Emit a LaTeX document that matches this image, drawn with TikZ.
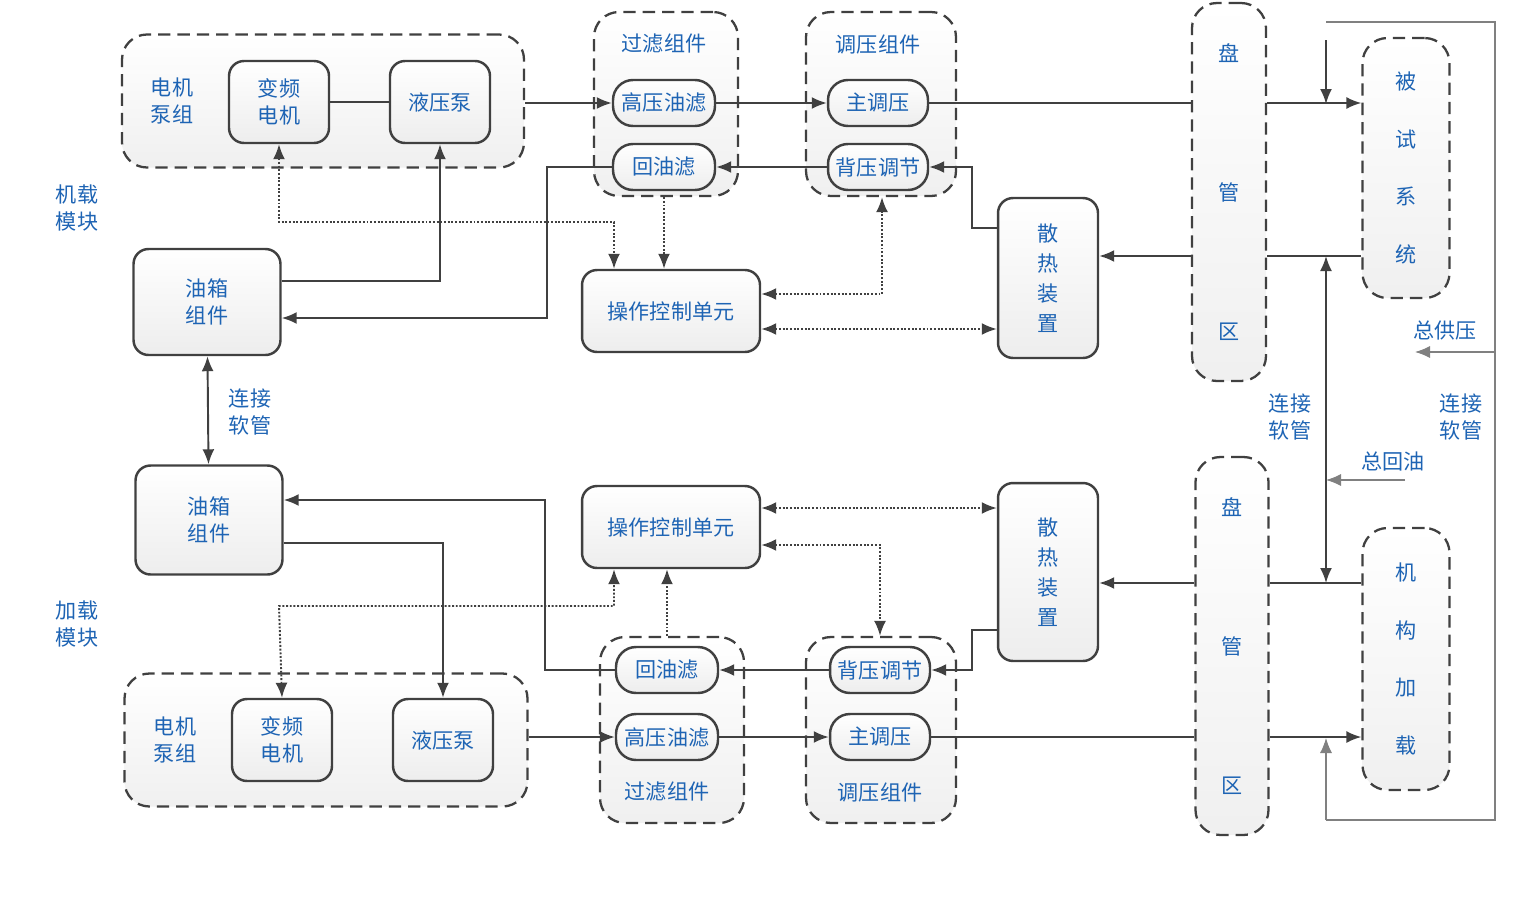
\documentclass[tikz,border=0pt]{standalone}
\usepackage{fontspec}
\setmainfont{Noto Sans CJK SC}
\usetikzlibrary{arrows.meta}
\definecolor{txtblue}{RGB}{30,100,180}
\definecolor{linegray}{RGB}{64,64,64}
\begin{document}
\begin{tikzpicture}[x=0.02cm,y=-0.02cm,>={Latex[length=3mm,width=2.4mm]}]
  \fontsize{12}{15}\selectfont
  \useasboundingbox (0,0) rectangle (1534,906);
  \tikzstyle{every node}=[text=txtblue,align=center,inner sep=0pt]
  \tikzstyle{box}=[rectangle,rounded corners=3mm,draw=linegray,line width=1.4pt,top color=white,bottom color=gray!14]
  \tikzstyle{grp}=[rectangle,rounded corners=5mm,draw=linegray,line width=1.3pt,dash pattern=on 7pt off 4pt,top color=white,bottom color=gray!12]
  \tikzstyle{pipe}=[draw=linegray,line width=1.1pt]
  \tikzstyle{sig}=[draw=linegray,line width=1.1pt,densely dotted]
  \tikzstyle{thin}=[draw=gray,line width=0.6pt]

%% onboard module
  \node[grp,minimum width=402*0.02cm,minimum height=133*0.02cm] (pumpA) at (323,101) {};
  \node at (172,101) {电机\\泵组};
  \node[box,minimum width=2cm,minimum height=1.64cm] (motorA) at (279,102) {变频\\电机};
  \node[box,minimum width=2cm,minimum height=1.64cm] (hpumpA) at (440,102) {液压泵};
  \node[grp,minimum width=144*0.02cm,minimum height=184*0.02cm] (filtA) at (666,104) {};
  \node at (664,44) {过滤组件};
  \node[box,rounded corners=4mm,minimum width=2.04cm,minimum height=0.92cm] (hpfA) at (664,103) {高压油滤};
  \node[box,rounded corners=4mm,minimum width=2.04cm,minimum height=0.92cm] (rfA) at (664,167) {回油滤};
  \node[grp,minimum width=150*0.02cm,minimum height=184*0.02cm] (regA) at (881,104) {};
  \node at (878,44) {调压组件};
  \node[box,rounded corners=4mm,minimum width=2cm,minimum height=0.92cm] (mainA) at (878,103) {主调压};
  \node[box,rounded corners=4mm,minimum width=2cm,minimum height=0.92cm] (backA) at (878,167) {背压调节};
  \node[grp,minimum width=74*0.02cm,minimum height=378*0.02cm] (coilA) at (1229,192) {盘\\[2.25cm]管\\[2.25cm]区};
  \node[grp,minimum width=87*0.02cm,minimum height=260*0.02cm] (test) at (1406,168) {被\\[0.63cm]试\\[0.63cm]系\\[0.63cm]统};
  \node[box,minimum width=2cm,minimum height=3.2cm] (coolA) at (1048,278) {散\\[0.07cm]热\\[0.07cm]装\\[0.07cm]置};
  \node[box,minimum width=3.56cm,minimum height=1.64cm] (ctrlA) at (671,311) {操作控制单元};
  \node[box,minimum width=2.94cm,minimum height=2.12cm] (tankA) at (207,302) {油箱\\组件};
  \node at (77,208) {机载\\模块};
  \node at (250,412) {连接\\软管};

%% loading module
  \node[box,minimum width=2.94cm,minimum height=2.18cm] (tankB) at (209,520) {油箱\\组件};
  \node[box,minimum width=3.56cm,minimum height=1.64cm] (ctrlB) at (671,527) {操作控制单元};
  \node[box,minimum width=2cm,minimum height=3.56cm] (coolB) at (1048,572) {散\\[0.07cm]热\\[0.07cm]装\\[0.07cm]置};
  \node at (77,624) {加载\\模块};
  \node[grp,minimum width=403*0.02cm,minimum height=133*0.02cm] (pumpB) at (326,740) {};
  \node at (175,740) {电机\\泵组};
  \node[box,minimum width=2cm,minimum height=1.64cm] (motorB) at (282,740) {变频\\电机};
  \node[box,minimum width=2cm,minimum height=1.64cm] (hpumpB) at (443,740) {液压泵};
  \node[grp,minimum width=144*0.02cm,minimum height=186*0.02cm] (filtB) at (672,730) {};
  \node at (667,792) {过滤组件};
  \node[box,rounded corners=4mm,minimum width=2.04cm,minimum height=0.92cm] (rfB) at (667,670) {回油滤};
  \node[box,rounded corners=4mm,minimum width=2.04cm,minimum height=0.92cm] (hpfB) at (667,737) {高压油滤};
  \node[grp,minimum width=150*0.02cm,minimum height=186*0.02cm] (regB) at (881,730) {};
  \node at (880,792) {调压组件};
  \node[box,rounded corners=4mm,minimum width=2cm,minimum height=0.92cm] (backB) at (880,670) {背压调节};
  \node[box,rounded corners=4mm,minimum width=2cm,minimum height=0.92cm] (mainB) at (880,737) {主调压};
  \node[grp,minimum width=73*0.02cm,minimum height=378*0.02cm] (coilB) at (1232,646) {盘\\[2.25cm]管\\[2.25cm]区};
  \node[grp,minimum width=87*0.02cm,minimum height=262*0.02cm] (load) at (1406,659) {机\\[0.63cm]构\\[0.63cm]加\\[0.63cm]载};

%% right side labels
  \node at (1290,417) {连接\\软管};
  \node at (1461,417) {连接\\软管};
  \node at (1445,330) {总供压};
  \node at (1393,461) {总回油};

%% oil lines, onboard
  \draw[pipe] (motorA) -- (hpumpA);
  \draw[pipe,->] (pumpA.east |- hpfA) -- (hpfA.west);
  \draw[pipe,->] (hpfA) -- (mainA);
  \draw[pipe] (mainA.east) -- (coilA.west |- mainA);
  \draw[pipe,->] (coilA.east |- mainA) -- (test.west |- mainA);
  \draw[pipe] (test.west |- 0,256) -- (coilA.east |- 0,256);
  \draw[pipe,->] (coilA.west |- 0,256) -- (coolA.east |- 0,256);
  \draw[pipe,->] (coolA.west |- 0,228) -- (972,228) |- (backA.east);
  \draw[pipe,->] (backA) -- (rfA);
  \draw[pipe,->] (rfA.west) -- (547,167) |- (tankA.east |- 0,318);
  \draw[pipe,->] (tankA.east |- 0,281) -| (hpumpA.south);
  \draw[pipe,<->] (tankA) -- (tankB);

%% signal lines, onboard
  \draw[sig,<->] (motorA.south) -- (279,222) -| ([xshift=-1.14cm]ctrlA.north);
  \draw[sig,->] (filtA.south -| ctrlA.north) ++(-0.14cm,0) -- ([xshift=-0.14cm]ctrlA.north);
  \draw[sig,<->] (ctrlA.east |- 0,294) -| (regA.south -| 882,0);
  \draw[sig,<->] (ctrlA.east |- 0,329) -- (coolA.west |- 0,329);

%% oil lines, loading
  \draw[pipe,->] (tankB.east |- 0,543) -| (hpumpB.north);
  \draw[pipe,->] (rfB.west) -- (545,670) |- (tankB.east |- 0,500);
  \draw[pipe,->] (pumpB.east |- hpfB) -- (hpfB.west);
  \draw[pipe,->] (hpfB) -- (mainB);
  \draw[pipe] (mainB.east) -- (coilB.west |- mainB);
  \draw[pipe,->] (coilB.east |- mainB) -- (load.west |- mainB);
  \draw[pipe] (load.west |- 0,583) -- (coilB.east |- 0,583);
  \draw[pipe,->] (coilB.west |- 0,583) -- (coolB.east |- 0,583);
  \draw[pipe,->] (coolB.west |- 0,630) -- (972,630) |- (backB.east);
  \draw[pipe,->] (backB) -- (rfB);

%% signal lines, loading
  \draw[sig,<->] (motorB.north) -- (279,606) -| ([xshift=-1.14cm]ctrlB.south);
  \draw[sig,->] (filtB.north -| ctrlB.south) ++(-0.08cm,0) -- ([xshift=-0.08cm]ctrlB.south);
  \draw[sig,<->] (ctrlB.east |- 0,545) -| (regB.north -| 880,0);
  \draw[sig,<->] (ctrlB.east |- 0,508) -- (coolB.west |- 0,508);

%% supply and return mains
  \coordinate (supTop) at (1326,22);
  \coordinate (retBot) at (1326,820);
  \draw[pipe,<->] (1326,256) -- (1326,583);
  \draw[thin] (supTop) -| (1495,820) -- (retBot);
  \draw[pipe,->] (1326,40) -- (1326,104);
  \draw[thin,->] (retBot) -- (1326,738);
  \draw[thin,->] (1495,352) -- (1415,352);
  \draw[thin,->] (1405,480) -- (1326,480);
\end{tikzpicture}
\end{document}
